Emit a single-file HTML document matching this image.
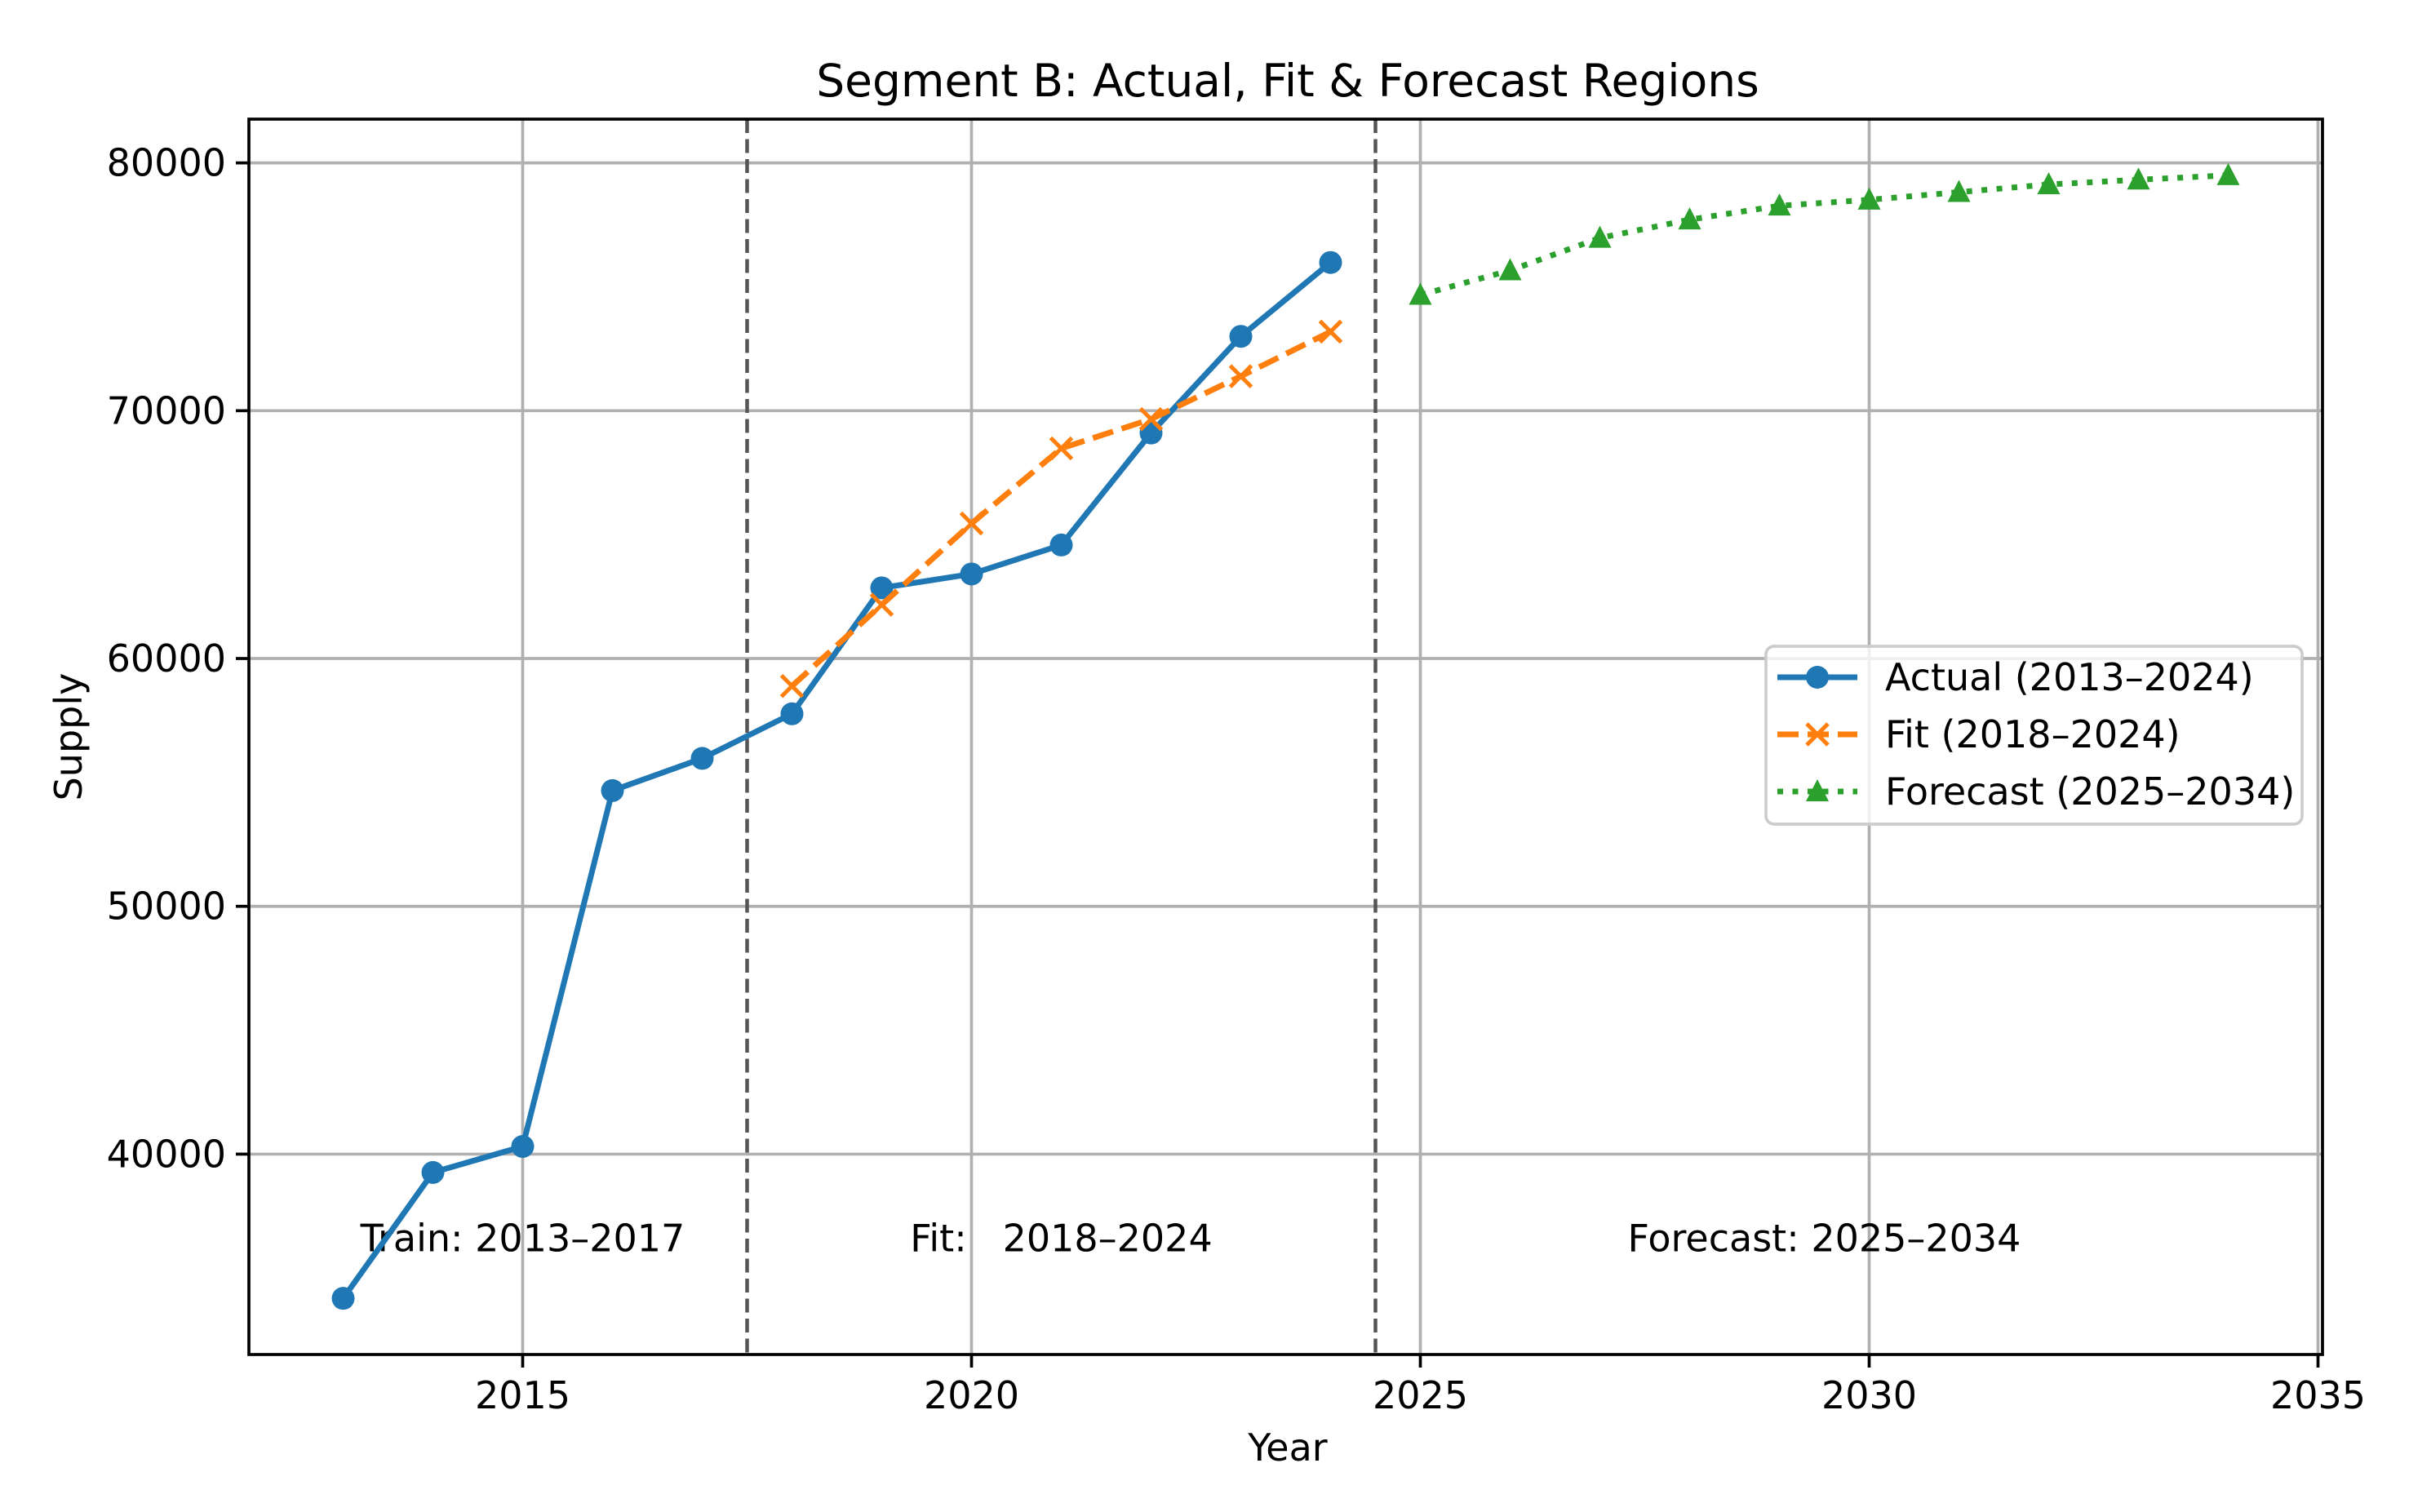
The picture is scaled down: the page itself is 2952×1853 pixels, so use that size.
<!DOCTYPE html>
<html><head><meta charset="utf-8"><style>
html,body{margin:0;padding:0;background:#fff;}
svg{display:block;font-family:"DejaVu Sans","Liberation Sans",sans-serif;}
</style></head><body>
<svg id="chart" width="2952" height="1853" viewBox="0 0 2952 1853" xmlns="http://www.w3.org/2000/svg">
<rect width="2952" height="1853" fill="#fff"/>
<text x="1578" y="118" font-size="55" text-anchor="middle" fill="#000">Segment B: Actual, Fit &amp; Forecast Regions</text>
<text x="1578" y="1790" font-size="46" text-anchor="middle" fill="#000">Year</text>
<text x="100" y="903" font-size="46" text-anchor="middle" fill="#000" transform="rotate(-90 100 903)">Supply</text>
<g id="grid"></g><g id="ticks"></g><g id="vlines"></g><g id="annots"></g><g id="series"></g>
<rect x="305" y="146" width="2541" height="1514" fill="none" stroke="#000" stroke-width="3.7"/>
<g id="legend"></g>
</svg>
<script>
const years = [2013,2014,2015,2016,2017,2018,2019,2020,2021,2022,2023,2024];
const actualValues = [34180,39260,40310,54670,55970,57770,62850,63410,64580,69100,73000,75980];
const fitYears = [2018,2019,2020,2021,2022,2023,2024];
const fitValues = [58890,62170,65450,68480,69660,71390,73190];
const forecastYears = [2025,2026,2027,2028,2029,2030,2031,2032,2033,2034];
const forecastValues = [74670,75660,76970,77710,78270,78510,78820,79130,79320,79500];
const xTicks = [2015,2020,2025,2030,2035];
const yTicks = [40000,50000,60000,70000,80000];
const regionBounds = [2017.5,2024.5];
const regionLabels = ["Train: 2013–2017","Fit:   2018–2024","Forecast: 2025–2034"];
const regionLabelX = [2015,2021,2029.5];
const regionLabelY = 36600;

const L=305,R=2846,T=146,B=1660;
const xMin=2011.95,xMax=2035.05,yMin=31914,yMax=81766;
const X=v=>L+(v-xMin)/(xMax-xMin)*(R-L);
const Y=v=>B-(v-yMin)/(yMax-yMin)*(B-T);
const NS="http://www.w3.org/2000/svg";
function mk(tag,attrs,parent){const e=document.createElementNS(NS,tag);for(const k in attrs)e.setAttribute(k,attrs[k]);parent.appendChild(e);return e;}
const grid=document.getElementById('grid'),ticks=document.getElementById('ticks');
xTicks.forEach(t=>{const x=X(t);
 const g=mk('line',{x1:x,x2:x,y1:T,y2:B,stroke:'#b0b0b0','stroke-width':3.7},grid);
 
 
 const tk=mk('line',{x1:x,x2:x,y1:B,y2:B+16,stroke:'#000','stroke-width':3.7},ticks);
 
 
 const lb=mk('text',{x:x,y:B+66,'font-size':46,'text-anchor':'middle',fill:'#000'},ticks);lb.textContent=t;
 
 
});
yTicks.forEach(t=>{const y=Y(t);
 const g=mk('line',{x1:L,x2:R,y1:y,y2:y,stroke:'#b0b0b0','stroke-width':3.7},grid);
 
 
 const tk=mk('line',{x1:L-16,x2:L,y1:y,y2:y,stroke:'#000','stroke-width':3.7},ticks);
 
 
 const lb=mk('text',{x:L-28,y:y+16,'font-size':46,'text-anchor':'end',fill:'#000'},ticks);lb.textContent=t;
 
 
});
const vl=document.getElementById('vlines');
regionBounds.forEach(b=>{const x=X(b);
 const l=mk('line',{x1:x,x2:x,y1:T,y2:B,stroke:'#555','stroke-width':4.5,'stroke-dasharray':'17 7.5'},vl);
 
 
});
const an=document.getElementById('annots');
regionLabels.forEach((s,i)=>{
 const t=mk('text',{x:X(regionLabelX[i]),y:Y(regionLabelY)+16,'font-size':46,'text-anchor':'middle',fill:'#000','xml:space':'preserve'},an);
 t.style.whiteSpace='pre';t.textContent=s;
 
 
});
const se=document.getElementById('series');
function pts(xs,ys){return xs.map((x,i)=>X(x)+','+Y(ys[i])).join(' ');}
const la=mk('polyline',{points:pts(years,actualValues),fill:'none',stroke:'#1f77b4','stroke-width':7,'stroke-linejoin':'round'},se);


years.forEach((yr,i)=>{const c=mk('circle',{cx:X(yr),cy:Y(actualValues[i]),r:14,fill:'#1f77b4'},se);
 
 });
const lf=mk('polyline',{points:pts(fitYears,fitValues),fill:'none',stroke:'#ff7f0e','stroke-width':7,'stroke-dasharray':'26 11'},se);


function xmark(cx,cy,p){const d=`M${cx-13},${cy-13}L${cx+13},${cy+13}M${cx-13},${cy+13}L${cx+13},${cy-13}`;return mk('path',{d:d,stroke:'#ff7f0e','stroke-width':5,fill:'none'},p);}
fitYears.forEach((yr,i)=>{const m=xmark(X(yr),Y(fitValues[i]),se);
 
 });
const lc=mk('polyline',{points:pts(forecastYears,forecastValues),fill:'none',stroke:'#2ca02c','stroke-width':7,'stroke-dasharray':'7 11.5'},se);


function tri(cx,cy,p){return mk('polygon',{points:`${cx},${cy-15} ${cx+14},${cy+12} ${cx-14},${cy+12}`,fill:'#2ca02c'},p);}
forecastYears.forEach((yr,i)=>{const m=tri(X(yr),Y(forecastValues[i]),se);
 
 });
// legend
const lg=document.getElementById('legend');
const box=mk('rect',{x:2164,y:792,width:657,height:218,rx:10,fill:'#fff','fill-opacity':0.8,stroke:'#ccc','stroke-width':3.7},lg);


const ly=[830,900,970],names=["Actual (2013–2024)","Fit (2018–2024)","Forecast (2025–2034)"];
const e0=mk('line',{x1:2178,x2:2276,y1:ly[0],y2:ly[0],stroke:'#1f77b4','stroke-width':7},lg);


const c0=mk('circle',{cx:2227,cy:ly[0],r:14,fill:'#1f77b4'},lg);


const e1=mk('line',{x1:2178,x2:2276,y1:ly[1],y2:ly[1],stroke:'#ff7f0e','stroke-width':7,'stroke-dasharray':'26 11'},lg);


const m1=xmark(2227,ly[1],lg);


const e2=mk('line',{x1:2178,x2:2276,y1:ly[2],y2:ly[2],stroke:'#2ca02c','stroke-width':7,'stroke-dasharray':'7 11.5'},lg);


const m2=tri(2227,ly[2],lg);


names.forEach((n,i)=>{const t=mk('text',{x:2310,y:ly[i]+16,'font-size':46,fill:'#000'},lg);t.textContent=n;
 
 });
</script>
</body></html>
